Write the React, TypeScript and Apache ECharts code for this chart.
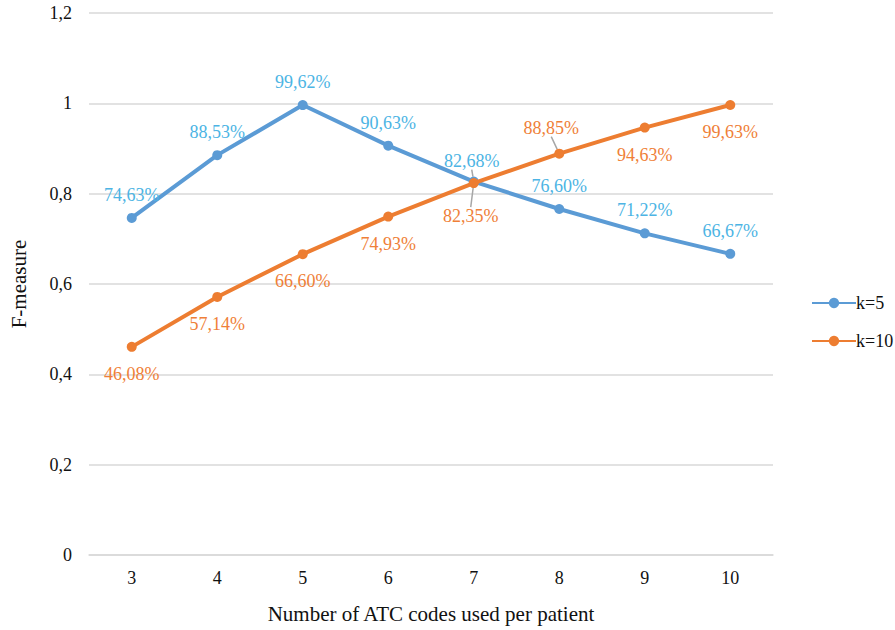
import React, { useEffect, useRef } from "react";
import * as echarts from "echarts";

const categories = ["3", "4", "5", "6", "7", "8", "9", "10"];
const k5Values = [0.7463, 0.8853, 0.9962, 0.9063, 0.8268, 0.766, 0.7122, 0.6667];
const k10Values = [0.4608, 0.5714, 0.666, 0.7493, 0.8235, 0.8885, 0.9463, 0.9963];
const seriesNames = ["k=5", "k=10"];

const FONT = "'Liberation Serif', 'Times New Roman', serif";
const BLUE = "#5b9bd5";
const ORANGE = "#ed7d31";
const BLUE_LABEL = "#4cb4e4";
const ORANGE_LABEL = "#ef7f38";
const LEADER = "#a6a6a6";

const pct = (v: number) => (v * 100).toFixed(2).replace(".", ",") + "%";
const comma = (v: number) => String(Math.round(v * 10) / 10).replace(".", ",");

// labels pulled off their default spot get a short grey leader line
const k5Nudge: Record<number, [number, number]> = { 4: [-2, 2] };
const k10Nudge: Record<number, [number, number]> = { 4: [-3, 6], 5: [-8, -3] };

const leader = { show: true, lineStyle: { color: LEADER, width: 1.5 } };

export default function App() {
  const ref = useRef<HTMLDivElement>(null);

  useEffect(() => {
    if (!ref.current) return;
    const chart = echarts.init(ref.current, null, { renderer: "svg" });

    const k5Data = k5Values.map((v, i) =>
      k5Nudge[i] ? { value: v, labelLine: leader } : { value: v }
    );
    const k10Data = k10Values.map((v, i) => {
      const item: any = { value: v };
      if (k10Nudge[i]) item.labelLine = leader;
      if (i === 5) item.label = { position: "top", distance: 9 };
      return item;
    });

    chart.setOption({
      animation: false,
      backgroundColor: "#ffffff",
      textStyle: { fontFamily: FONT },
      grid: { left: 85, right: 122, top: 13, bottom: 75 },
      legend: {
        orient: "vertical",
        left: 806,
        top: 289,
        itemWidth: 44,
        itemHeight: 13,
        itemGap: 20,
        data: seriesNames,
        textStyle: { fontFamily: FONT, fontSize: 18, color: "#111", padding: [0, 0, 0, -5] },
      },
      xAxis: {
        type: "category",
        data: categories,
        boundaryGap: true,
        name: "Number of ATC codes used per patient",
        nameLocation: "middle",
        nameGap: 48,
        nameTextStyle: { fontFamily: FONT, fontSize: 21, color: "#111" },
        axisLine: { show: true, lineStyle: { color: "#d9d9d9", width: 1.5 } },
        axisTick: { show: false },
        axisLabel: { margin: 14, fontFamily: FONT, fontSize: 18, color: "#111" },
      },
      yAxis: {
        type: "value",
        min: 0,
        max: 1.2,
        interval: 0.2,
        name: "F-measure",
        nameLocation: "middle",
        nameGap: 60,
        nameTextStyle: { fontFamily: FONT, fontSize: 21, color: "#111" },
        axisLine: { show: false },
        axisTick: { show: false },
        splitLine: { lineStyle: { color: "#d9d9d9", width: 1.5 } },
        axisLabel: { margin: 17, fontFamily: FONT, fontSize: 18, color: "#111", formatter: comma },
      },
      series: [
        {
          name: seriesNames[0],
          type: "line",
          data: k5Data,
          symbol: "circle",
          symbolSize: 10,
          color: BLUE,
          lineStyle: { width: 4, color: BLUE },
          itemStyle: { color: BLUE },
          label: {
            show: true,
            position: "top",
            distance: 9,
            fontFamily: FONT,
            fontSize: 18,
            color: BLUE_LABEL,
            formatter: (p: any) => pct(p.value),
          },
          labelLayout: (p: any) => {
            const n = k5Nudge[p.dataIndex];
            return n ? { dx: n[0], dy: n[1] } : {};
          },
          z: 3,
        },
        {
          name: seriesNames[1],
          type: "line",
          data: k10Data,
          symbol: "circle",
          symbolSize: 10,
          color: ORANGE,
          lineStyle: { width: 4, color: ORANGE },
          itemStyle: { color: ORANGE },
          label: {
            show: true,
            position: "bottom",
            distance: 13,
            fontFamily: FONT,
            fontSize: 18,
            color: ORANGE_LABEL,
            formatter: (p: any) => pct(p.value),
          },
          labelLayout: (p: any) => {
            const n = k10Nudge[p.dataIndex];
            return n ? { dx: n[0], dy: n[1] } : {};
          },
          z: 4,
        },
      ],
    });

    return () => chart.dispose();
  }, []);

  return (
    <div
      ref={ref}
      style={{ position: "fixed", left: 0, top: 0, width: 895, height: 630, overflow: "hidden" }}
    />
  );
}
